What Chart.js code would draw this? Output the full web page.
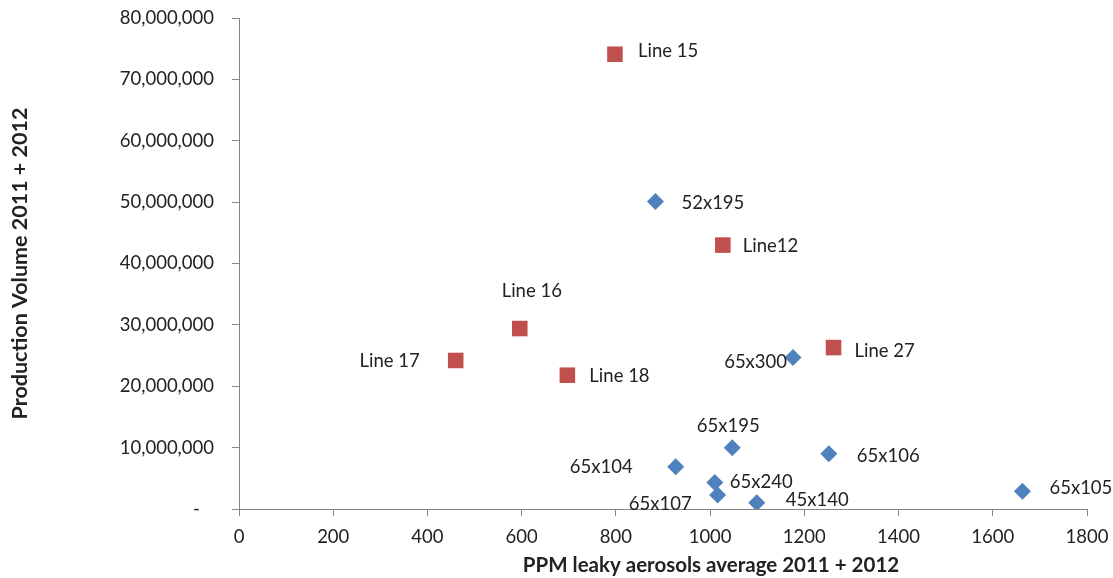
<!DOCTYPE html>
<html>
<head>
<meta charset="utf-8">
<script src="https://cdn.jsdelivr.net/npm/chart.js@4.4.1/dist/chart.umd.min.js"></script>
<style>
  html, body { margin: 0; padding: 0; background: #fff; }
  #wrap { width: 1113px; height: 578px; }
</style>
</head>
<body>
<div id="wrap"><canvas id="scatter"></canvas></div>
<script>
// aerosol formats (blue diamonds)
const aerosolNames = ['52x195', '65x300', '65x195', '65x106', '65x104', '65x240', '65x107', '45x140', '65x105'];
const aerosolPpm = [884, 1176, 1047, 1252, 927, 1010, 1016, 1099, 1663];
const aerosolVolume = [50100000, 24700000, 10000000, 9000000, 6900000, 4300000, 2300000, 1000000, 2900000];

// production lines (red squares)
const lineNames = ['Line 15', 'Line12', 'Line 16', 'Line 17', 'Line 18', 'Line 27'];
const linePpm = [798, 1027, 596, 460, 697, 1262];
const lineVolume = [74100000, 43000000, 29400000, 24200000, 21800000, 26300000];

const X_TITLE = 'PPM leaky aerosols average 2011 + 2012';
const Y_TITLE = 'Production Volume 2011 + 2012';
const FONT = 'Lato, "Open Sans", sans-serif';
const TEXT_COLOR = '#222';
const AXIS_COLOR = '#868686';

// where each data label sits relative to its marker: [dx, dy, align]
const labelOffsets = {
  'Line 15': [23, -3, 'left'],
  'Line12': [20, 1, 'left'],
  'Line 16': [12, -38, 'center'],
  'Line 17': [-36, 1, 'right'],
  'Line 18': [22, 1, 'left'],
  'Line 27': [21, 3, 'left'],
  '52x195': [26, 2, 'left'],
  '65x300': [-6, 5, 'right'],
  '65x195': [-4, -22, 'center'],
  '65x106': [28, 2, 'left'],
  '65x104': [-43, 0, 'right'],
  '65x240': [15, -1, 'left'],
  '65x107': [-26, 9, 'right'],
  '45x140': [29, -3, 'left'],
  '65x105': [27, -3, 'left']
};

function toPoints(xs, ys) {
  return xs.map((x, i) => ({ x: x, y: ys[i] }));
}

const pointLabels = {
  id: 'pointLabels',
  afterDatasetsDraw(chart) {
    const ctx = chart.ctx;
    ctx.save();
    ctx.font = '18.5px ' + FONT;
    ctx.fillStyle = TEXT_COLOR;
    ctx.textBaseline = 'middle';
    chart.data.datasets.forEach((ds, di) => {
      const meta = chart.getDatasetMeta(di);
      meta.data.forEach((el, i) => {
        const name = ds.names[i];
        const off = labelOffsets[name] || [15, 0, 'left'];
        ctx.textAlign = off[2];
        ctx.fillText(name, el.x + off[0], el.y + off[1]);
      });
    });
    ctx.restore();
  }
};

const xAxisTitle = {
  id: 'xAxisTitle',
  afterDraw(chart) {
    const ctx = chart.ctx;
    const area = chart.chartArea;
    ctx.save();
    ctx.font = 'bold 20.5px ' + FONT;
    ctx.fillStyle = TEXT_COLOR;
    ctx.textAlign = 'center';
    ctx.textBaseline = 'middle';
    ctx.fillText(X_TITLE, (area.left + area.right) / 2 + 48, 565);
    ctx.restore();
  }
};

const config = {
  type: 'scatter',
  data: {
    datasets: [
      {
        label: 'Aerosols',
        names: aerosolNames,
        data: toPoints(aerosolPpm, aerosolVolume),
        pointStyle: 'rectRot',
        pointRadius: 8.5,
        pointHoverRadius: 8.5,
        backgroundColor: '#4F81BD',
        borderColor: '#4F81BD',
        borderWidth: 0
      },
      {
        label: 'Lines',
        names: lineNames,
        data: toPoints(linePpm, lineVolume),
        pointStyle: 'rect',
        pointRadius: 11,
        pointHoverRadius: 11,
        backgroundColor: '#C0504D',
        borderColor: '#C0504D',
        borderWidth: 0
      }
    ]
  },
  options: {
    responsive: true,
    maintainAspectRatio: false,
    animation: false,
    layout: { padding: { top: 18, right: 26, bottom: 0, left: 0 } },
    plugins: {
      legend: { display: false },
      tooltip: { enabled: false }
    },
    scales: {
      x: {
        type: 'linear',
        min: 0,
        max: 1800,
        ticks: {
          stepSize: 200,
          padding: 10,
          color: TEXT_COLOR,
          font: { family: FONT, size: 18.5 },
          callback: (v) => String(v)
        },
        grid: { drawOnChartArea: false, tickLength: 7, color: AXIS_COLOR },
        border: { color: AXIS_COLOR, width: 1 },
        afterFit: (scale) => {
          scale.height = 69;
          scale.paddingLeft = 0;
          scale.paddingRight = 0;
        }
      },
      y: {
        min: 0,
        max: 80000000,
        ticks: {
          stepSize: 10000000,
          padding: 18,
          color: TEXT_COLOR,
          font: { family: FONT, size: 18.5 },
          callback: (v) => v === 0 ? '-   ' : v.toLocaleString('en-US')
        },
        grid: { drawOnChartArea: false, tickLength: 7, color: AXIS_COLOR },
        border: { color: AXIS_COLOR, width: 1 },
        title: {
          display: true,
          text: Y_TITLE,
          color: TEXT_COLOR,
          font: { family: FONT, size: 21.5, weight: 'bold' },
          padding: { top: 7, bottom: 0 }
        },
        afterFit: (scale) => {
          scale.width = 239;
          scale.paddingTop = 0;
          scale.paddingBottom = 0;
        }
      }
    }
  },
  plugins: [pointLabels, xAxisTitle]
};

new Chart(document.getElementById('scatter'), config);
</script>
</body>
</html>
